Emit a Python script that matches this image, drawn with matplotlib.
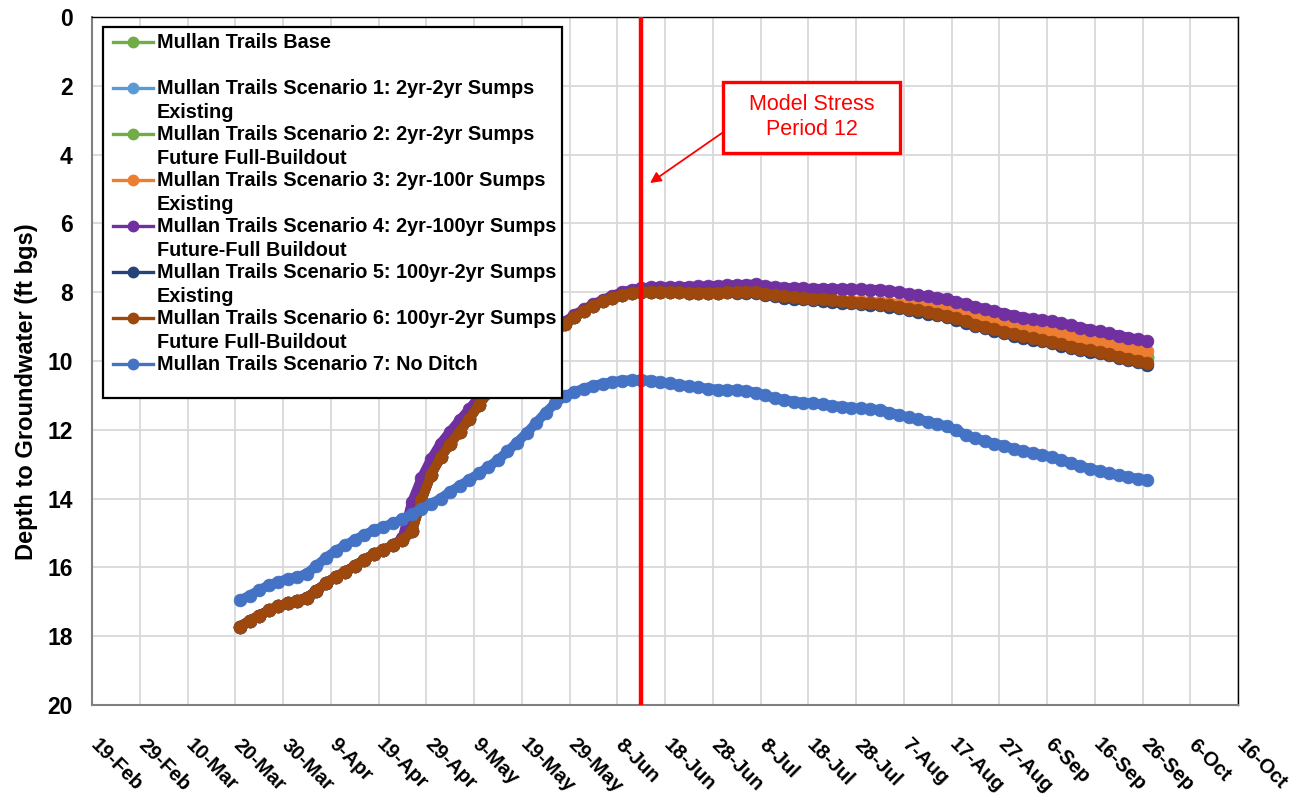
import datetime as dt
import matplotlib
matplotlib.use("Agg")
import matplotlib.pyplot as plt
import matplotlib.transforms as mtransforms
from matplotlib.patches import Rectangle
from matplotlib.lines import Line2D

plt.rcParams['font.family'] = ['Liberation Sans', 'DejaVu Sans']

# ---------------- data ----------------
sample_start = dt.date(2020, 3, 21)
n_samples = 96
sample_step_days = 2
dates = [sample_start + dt.timedelta(days=sample_step_days * i) for i in range(n_samples)]

stress_period_date = dt.date(2020, 6, 13)

tick_start = dt.date(2020, 2, 19)
tick_end = dt.date(2020, 10, 16)
tick_step_days = 10

# shared early values of all ditch scenarios (21-Mar .. 22-Apr)
early_all = [17.72, 17.55, 17.4, 17.25, 17.13, 17.04, 16.97, 16.88, 16.68, 16.46,
             16.28, 16.13, 15.96, 15.78, 15.62, 15.5, 15.36]

# Scenario 6 (brown) from 24-Apr on
s6_rest = [15.2, 14.95, 14.05, 13.3, 12.8, 12.4, 12.05, 11.68, 11.28, 10.9,
           10.52, 10.22, 9.95, 9.7, 9.5, 9.32, 9.15, 8.93, 8.72, 8.55,
           8.4, 8.27, 8.16, 8.08, 8.02, 7.99, 7.98, 7.98, 7.99, 8.0,
           8.01, 8.02, 8.02, 8.01, 8.0, 7.99, 7.98, 7.99, 8.04, 8.08,
           8.12, 8.15, 8.17, 8.19, 8.21, 8.24, 8.26, 8.28, 8.3, 8.32,
           8.34, 8.38, 8.43, 8.48, 8.53, 8.58, 8.63, 8.68, 8.76, 8.85,
           8.94, 9.01, 9.08, 9.15, 9.22, 9.28, 9.34, 9.39, 9.44, 9.52,
           9.58, 9.64, 9.69, 9.74, 9.8, 9.87, 9.94, 10.0, 10.07]

# Scenario 4 (purple) from 24-Apr on
s4_rest = [15.15, 14.1, 13.4, 12.85, 12.4, 12.05, 11.72, 11.4, 11.05, 10.72,
           10.38, 10.1, 9.85, 9.62, 9.43, 9.25, 9.08, 8.87, 8.66, 8.5,
           8.35, 8.22, 8.1, 8.0, 7.93, 7.88, 7.86, 7.85, 7.85, 7.85,
           7.84, 7.83, 7.82, 7.81, 7.8, 7.79, 7.78, 7.77, 7.82, 7.85,
           7.87, 7.88, 7.89, 7.9, 7.9, 7.91, 7.91, 7.92, 7.92, 7.93,
           7.93, 7.96, 8.0, 8.05, 8.09, 8.12, 8.16, 8.2, 8.28, 8.35,
           8.42, 8.49, 8.55, 8.62, 8.68, 8.74, 8.78, 8.81, 8.84, 8.9,
           8.96, 9.03, 9.09, 9.14, 9.2, 9.26, 9.32, 9.37, 9.42]

# Scenario 3 (orange) from 19-Jul on
s3_late = [8.18, 8.2, 8.22, 8.24, 8.26, 8.27, 8.28, 8.29, 8.31, 8.34,
           8.37, 8.39, 8.4, 8.41, 8.44, 8.52, 8.6, 8.67, 8.73, 8.78,
           8.84, 8.9, 8.96, 9.01, 9.07, 9.13, 9.2, 9.26, 9.32, 9.38,
           9.44, 9.5, 9.56, 9.61, 9.66, 9.71]

# Base and Scenario 2 (green) from 4-Aug on
s2_late = [8.37, 8.41, 8.45, 8.49, 8.53, 8.57, 8.6, 8.66, 8.74, 8.81,
           8.87, 8.93, 8.99, 9.05, 9.1, 9.15, 9.2, 9.25, 9.32, 9.39,
           9.46, 9.52, 9.58, 9.64, 9.7, 9.76, 9.82, 9.88]
base_late = [8.37, 8.41, 8.45, 8.49, 8.53, 8.57, 8.6, 8.66, 8.74, 8.81,
             8.87, 8.93, 8.99, 9.05, 9.1, 9.15, 9.2, 9.25, 9.32, 9.39,
             9.46, 9.52, 9.58, 9.64, 9.7, 9.76, 9.82, 9.88]

# Scenario 1 (light blue) from 4-Aug on
s1_late = [8.38, 8.42, 8.46, 8.5, 8.55, 8.59, 8.62, 8.68, 8.76, 8.83,
           8.89, 8.95, 9.01, 9.07, 9.12, 9.17, 9.22, 9.27, 9.34, 9.41,
           9.48, 9.54, 9.6, 9.66, 9.72, 9.78, 9.84, 9.9]

# Scenario 5 (navy) from 3-Jul on
s5_late = [8.03, 8.02, 8.03, 8.08, 8.12, 8.16, 8.19, 8.21, 8.23, 8.25,
           8.28, 8.3, 8.32, 8.34, 8.36, 8.38, 8.42, 8.47, 8.52, 8.57,
           8.62, 8.67, 8.72, 8.8, 8.89, 8.98, 9.05, 9.12, 9.19, 9.26,
           9.32, 9.38, 9.43, 9.48, 9.56, 9.62, 9.68, 9.73, 9.78, 9.84,
           9.91, 9.98, 10.04, 10.11]

# Scenario 7 (no ditch)
s7_vals = [16.95, 16.82, 16.66, 16.52, 16.42, 16.33, 16.28, 16.18, 15.95, 15.72,
           15.52, 15.36, 15.2, 15.06, 14.92, 14.82, 14.72, 14.6, 14.45, 14.3,
           14.15, 14.0, 13.8, 13.63, 13.45, 13.27, 13.08, 12.88, 12.63, 12.37,
           12.1, 11.8, 11.5, 11.23, 11.02, 10.9, 10.8, 10.72, 10.66, 10.61,
           10.57, 10.55, 10.55, 10.57, 10.61, 10.65, 10.69, 10.73, 10.77, 10.8,
           10.83, 10.84, 10.85, 10.86, 10.92, 11.0, 11.08, 11.13, 11.18, 11.21,
           11.23, 11.26, 11.3, 11.33, 11.36, 11.38, 11.4, 11.42, 11.5, 11.57,
           11.64, 11.7, 11.76, 11.83, 11.9, 12.02, 12.14, 12.25, 12.33, 12.4,
           12.47, 12.55, 12.62, 12.68, 12.73, 12.8, 12.88, 12.97, 13.06, 13.13,
           13.2, 13.27, 13.32, 13.37, 13.42, 13.46]

s6_vals = early_all + s6_rest
s4_vals = early_all + s4_rest
s3_vals = s6_vals[:96 - len(s3_late)] + s3_late
s2_vals = s6_vals[:96 - len(s2_late)] + s2_late
base_vals = s6_vals[:96 - len(base_late)] + base_late
s1_vals = s6_vals[:96 - len(s1_late)] + s1_late
s5_vals = s6_vals[:96 - len(s5_late)] + s5_late

labels = [
    ["Mullan Trails Base", ""],
    ["Mullan Trails Scenario 1: 2yr-2yr Sumps", "Existing"],
    ["Mullan Trails Scenario 2: 2yr-2yr Sumps", "Future Full-Buildout"],
    ["Mullan Trails Scenario 3: 2yr-100r Sumps", "Existing"],
    ["Mullan Trails Scenario 4: 2yr-100yr Sumps", "Future-Full Buildout"],
    ["Mullan Trails Scenario 5: 100yr-2yr Sumps", "Existing"],
    ["Mullan Trails Scenario 6: 100yr-2yr Sumps", "Future Full-Buildout"],
    ["Mullan Trails Scenario 7: No Ditch"],
]
series = [base_vals, s1_vals, s2_vals, s3_vals, s4_vals, s5_vals, s6_vals, s7_vals]
colors = ['#70AD47', '#5B9BD5', '#70AD47', '#ED7D31', '#7030A0', '#264478', '#9E480E', '#4472C4']

# ---------------- figure ----------------
W, H = 1307, 802
fig = plt.figure(figsize=(W / 100, H / 100), dpi=100, facecolor='white')
ax_l, ax_r, ax_t, ax_b = 92, 1238, 17, 705
ax = fig.add_axes([ax_l / W, 1 - ax_b / H, (ax_r - ax_l) / W, (ax_b - ax_t) / H])

LW = 7.0
MS = 9.2
for vals, col in zip(series, colors):
    ax.plot(dates, vals, color=col, lw=LW, marker='o', ms=MS, mfc=col, mec=col,
            mew=0.5, zorder=3, solid_joinstyle='round', solid_capstyle='round')

ax.axvline(stress_period_date, color='#FF0000', lw=3.2, zorder=5)

# axes
ticks = []
d = tick_start
while d <= tick_end:
    ticks.append(d)
    d += dt.timedelta(days=tick_step_days)
ax.set_xlim(tick_start, tick_end)
ax.set_xticks(ticks)
ax.set_xticklabels([])
lbl_trans = mtransforms.blended_transform_factory(ax.transData, ax.transAxes) + \
    mtransforms.ScaledTranslation(8 / 100, -30 / 100, fig.dpi_scale_trans)
for t in ticks:
    ax.text(t, 0, f"{t.day}-{t.strftime('%b')}", transform=lbl_trans, rotation=-45,
            ha='left', va='top', rotation_mode='anchor', fontsize=14.5,
            fontweight='bold', clip_on=False)
ax.set_ylim(20, 0)
ax.set_yticks(range(0, 21, 2))
ax.set_yticklabels([str(v) for v in range(0, 21, 2)], fontsize=16.5, fontweight='bold')
ax.tick_params(axis='x', length=0)
ax.tick_params(axis='y', length=0, pad=14)
ax.grid(True, color='#D9D9D9', lw=1.3)
ax.set_axisbelow(True)
for s in ['left', 'bottom']:
    ax.spines[s].set_color('#808080')
    ax.spines[s].set_linewidth(1.5)
for s in ['right', 'top']:
    ax.spines[s].set_color('black')
    ax.spines[s].set_linewidth(1.0)

ax.set_ylabel('Depth to Groundwater (ft bgs)', fontsize=17, fontweight='bold')
ax.yaxis.set_label_coords(-0.047, 0.455)

# ---------------- manual legend ----------------
def ax_xy(px, py):
    return (px - ax_l) / (ax_r - ax_l), (ax_b - py) / (ax_b - ax_t)

x0, y0 = ax_xy(103, 398)
x1, y1 = ax_xy(562, 27)
ax.add_patch(Rectangle((x0, y0), x1 - x0, y1 - y0, transform=ax.transAxes,
                       facecolor='white', edgecolor='black', lw=1.6, zorder=10,
                       clip_on=False))
row_h = 23.0
first_row = 42.0
row = 0
for lab, col in zip(labels, colors):
    py = first_row + row * row_h
    hx0, hy = ax_xy(113, py)
    hx1, _ = ax_xy(153, py)
    hm, _ = ax_xy(133, py)
    ax.add_line(Line2D([hx0, hx1], [hy, hy], color=col, lw=2.4, transform=ax.transAxes,
                       zorder=11, clip_on=False))
    ax.add_line(Line2D([hm], [hy], color=col, marker='o', ms=7.5, mfc=col, mec=col,
                       transform=ax.transAxes, zorder=12, clip_on=False))
    for j, line in enumerate(lab):
        tx, ty = ax_xy(157, py + j * row_h + 1)
        if line:
            ax.text(tx, ty, line, transform=ax.transAxes, fontsize=14.3, fontweight='bold',
                    ha='left', va='center', zorder=12)
    row += len(lab)

# ---------------- annotation ----------------
bx0, by0 = ax_xy(723, 153)
bx1, by1 = ax_xy(900, 82)
ax.add_patch(Rectangle((bx0, by0), bx1 - bx0, by1 - by0, transform=ax.transAxes,
                       facecolor='white', edgecolor='#FF0000', lw=2.4, zorder=10))
tcx, tcy = ax_xy(811.5, 117)
ax.text(tcx, tcy, 'Model Stress\nPeriod 12', transform=ax.transAxes, color='#FF0000',
        fontsize=15.5, ha='center', va='center', linespacing=1.2, zorder=11)
sx, sy = ax_xy(722, 133)
ex, ey = ax_xy(650, 183)
ax.annotate('', xy=(ex, ey), xytext=(sx, sy), xycoords='axes fraction',
            textcoords='axes fraction',
            arrowprops=dict(arrowstyle='-|>', color='#FF0000', lw=1.3,
                            mutation_scale=16, shrinkA=0, shrinkB=0), zorder=11)

fig.savefig('out.png', dpi=100, facecolor='white')
